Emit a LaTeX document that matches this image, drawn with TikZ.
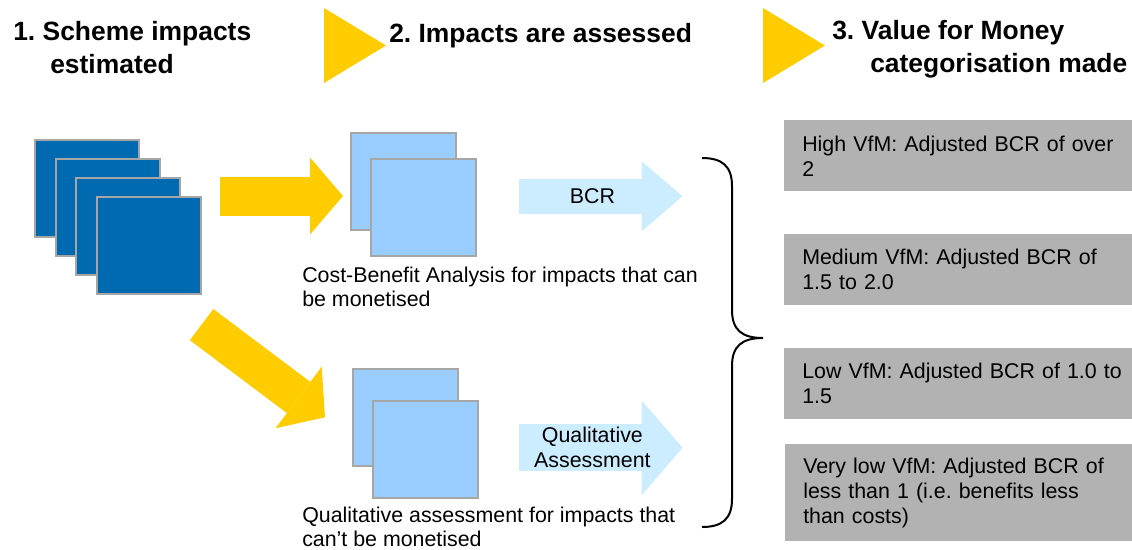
\documentclass[tikz,border=0pt]{standalone}
\usepackage{fontspec}
\setmainfont{Liberation Sans}
\usetikzlibrary{positioning,arrows.meta}
\definecolor{VfmYellow}{RGB}{255,204,0}
\definecolor{ImpactBlue}{RGB}{0,106,176}
\definecolor{AssessBlue}{RGB}{153,204,255}
\definecolor{ArrowBlue}{RGB}{204,236,255}
\definecolor{SheetEdge}{RGB}{166,166,166}
\definecolor{BandGray}{RGB}{178,178,178}
\frenchspacing

\begin{document}
\begin{tikzpicture}[x=0.25mm, y=-0.25mm,
    heading/.style={anchor=base west, inner sep=0pt, align=left,
        font=\fontsize{18.8}{22.8}\selectfont\bfseries},
    sheet/.style={rectangle, draw=SheetEdge, line width=0.4mm, anchor=north west,
        minimum width=26mm, minimum height=24.25mm},
    impact/.style={sheet, fill=ImpactBlue},
    assess/.style={sheet, fill=AssessBlue, minimum width=26.25mm},
    caption/.style={anchor=base west, inner sep=0pt, align=left,
        font=\fontsize{15.2}{16.4}\selectfont},
    band/.style={rectangle, fill=BandGray, anchor=north west, inner xsep=4.5mm, inner ysep=0pt,
        text width=82mm, align=left, minimum height=17.75mm, font=\fontsize{15.2}{17.8}\selectfont},
    flow/.style={VfmYellow, line width=9.75mm,
        -{Triangle[length=8.25mm, width=19.25mm, line width=0pt]}},
    result/.style={ArrowBlue, line width=8.75mm,
        -{Triangle[length=10.25mm, width=17.5mm, line width=0pt]}},
    tag/.style={pos=0.45, inner sep=0pt, align=center, text=black,
        font=\fontsize{15.2}{17.8}\selectfont},
    marker/.style={fill=VfmYellow},
]
\useasboundingbox (0,0) rectangle (1132,549);

\node[heading] (step1) at (13,73) {1. Scheme impacts\\\hspace*{9.25mm}estimated};
\fill[marker] (324,8) -- (386,45.5) -- (324,83) -- cycle;
\node[heading] (step2) at (389,42) {2. Impacts are assessed};
\fill[marker] (763,8) -- (825,45.5) -- (763,83) -- cycle;
\node[heading] (step3) at (832,72) {3. Value for Money\\\hspace*{9.5mm}categorisation made};

\node[impact] (sq1) at (34,139) {};
\node[impact] (sq2) at (55,158) {};
\node[impact] (sq3) at (75,177) {};
\node[impact] (sq4) at (96,196) {};

\node[assess] (cbaback) at (350,132) {};
\node[assess] (cba) at (370,158) {};
\node[caption] (cbatext) at (302,306) {Cost-Benefit Analysis for impacts that can\\be monetised};

\node[assess] (qualback) at (352,368) {};
\node[assess] (qual) at (372,400) {};
\node[caption] (qualtext) at (302,546) {Qualitative assessment for impacts that\\can’t be monetised};

\draw[flow] ([xshift=4.5mm]sq4.north east) -- ([xshift=-1.75mm]sq4.north east -| cbaback.west);
\draw[flow] ([yshift=-7.5mm]sq4.south east) -- ([xshift=-6.75mm]qualback.west);

\draw[result] ([shift={(42,-11)}]cba.east) -- node[tag] {BCR} ([shift={(206,-11)}]cba.east);
\draw[result, line width=11.75mm, -{Triangle[length=10.25mm, width=23.75mm, line width=0pt]}]
    ([shift={(40,-1.5)}]qual.east) -- node[tag] {Qualitative\\Assessment} ([shift={(204,-1.5)}]qual.east);

\draw[line width=0.5mm] (702,158) .. controls (722,158) and (732,166) .. (732,186) -- (732,310)
    .. controls (732,330) and (742,338) .. (763,338)
    .. controls (742,338) and (732,346) .. (732,366) -- (732,499)
    .. controls (732,519) and (722,527) .. (702,527);

\node[band] (high) at (784,120) {High VfM: Adjusted BCR of over\\2};
\node[band] (medium) at (784,234) {Medium VfM: Adjusted BCR of\\1.5 to 2.0};
\node[band] (low) at (784,348) {Low VfM: Adjusted BCR of 1.0 to\\1.5};
\node[band, minimum height=24.25mm] (verylow) at (785,444) {Very low VfM: Adjusted BCR of\\less than 1 (i.e. benefits less\\than costs)};
\end{tikzpicture}
\end{document}
